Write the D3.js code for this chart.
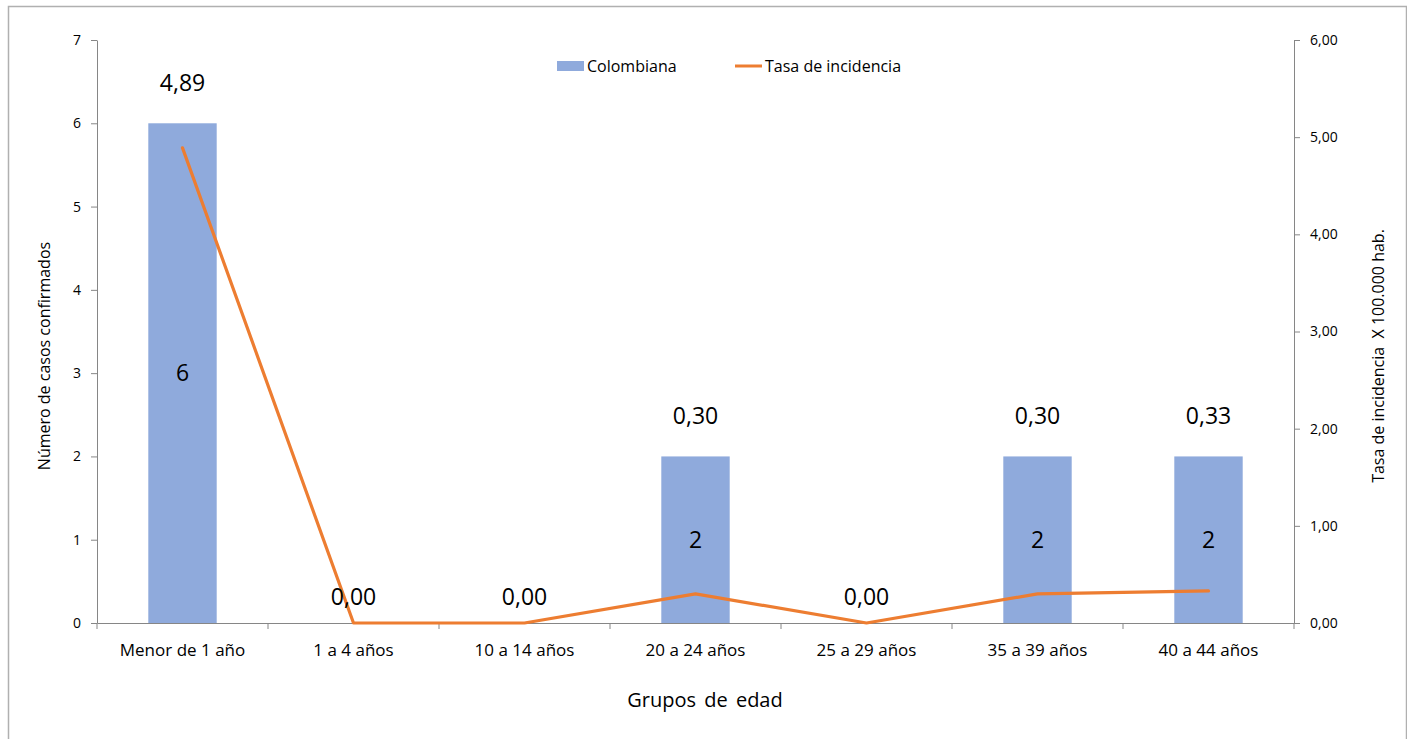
<!DOCTYPE html>
<html><head><meta charset="utf-8">
<script src="https://cdn.jsdelivr.net/npm/d3@7"></script>
<style>
body{margin:0;background:#fff}
svg{display:block}
text{font-family:"Open Sans",sans-serif;fill:#000}
</style>
</head><body><svg id="c" width="1407" height="739"></svg>
<script>
const categories = ["Menor de 1 año","1 a 4 años","10 a 14 años","20 a 24 años","25 a 29 años","35 a 39 años","40 a 44 años"];
const casos = [6,0,0,2,0,2,2];
const tasa = [4.89,0,0,0.30,0,0.30,0.33];
const leftTicks = [0,1,2,3,4,5,6,7];
const rightTicks = [0,1,2,3,4,5,6];
const seriesNames = ["Colombiana","Tasa de incidencia"];

const data = categories.map((c,i)=>({cat:c, n:casos[i], r:tasa[i]}));
const svg = d3.select("#c");
const L=97, R=1294, T=40, B=623;
const barColor="#8FAADC", lineColor="#ED7D31", axisColor="#868686";
const fmt = v => v.toFixed(2).replace('.',',');

svg.append("rect").attr("x",8.5).attr("y",6.5).attr("width",1398).attr("height",800)
  .attr("fill","none").attr("stroke","#b0b0b0").attr("stroke-width",1.5);

const x = d3.scaleBand().domain(categories).range([L,R]).padding(0);
const yL = d3.scaleLinear().domain([0,7]).range([B,T]);
const yR = d3.scaleLinear().domain([0,6]).range([B,T]);

// bars
const bw = x.bandwidth()*0.4;
svg.append("g").selectAll("rect").data(data.filter(d=>d.n>0)).join("rect")
  .attr("x",d=>x(d.cat)+x.bandwidth()*0.3).attr("width",bw)
  .attr("y",d=>yL(d.n)).attr("height",d=>yL(0)-yL(d.n)).attr("fill",barColor);

// axes
function styleAxis(g){
  g.selectAll("path,line").attr("stroke",axisColor);
  g.selectAll("text").attr("fill","#000").style("font-family",'"Open Sans",sans-serif');
}
const gl = svg.append("g").attr("transform",`translate(${L},0)`)
  .call(d3.axisLeft(yL).tickValues(leftTicks).tickSize(6).tickSizeOuter(0).tickPadding(10).tickFormat(d3.format("d")));
gl.selectAll("text").style("font-size","14px");
styleAxis(gl);

const gr = svg.append("g").attr("transform",`translate(${R},0)`)
  .call(d3.axisRight(yR).tickValues(rightTicks).tickSize(6).tickSizeOuter(0).tickPadding(10).tickFormat(fmt));
gr.selectAll("text").style("font-size","14px");
styleAxis(gr);

const gb = svg.append("g").attr("transform",`translate(0,${B})`)
  .call(d3.axisBottom(x).tickSize(0).tickSizeOuter(0).tickPadding(21));
gb.selectAll("text").style("font-size","17px");
styleAxis(gb);
// boundary ticks
const bounds = categories.map(c=>x(c)).concat([x(categories[categories.length-1])+x.bandwidth()]);
svg.append("g").selectAll("line").data(bounds).join("line")
  .attr("x1",d=>d).attr("x2",d=>d).attr("y1",B).attr("y2",B+6).attr("stroke",axisColor);

// line
const line = d3.line().x(d=>x(d.cat)+x.bandwidth()/2).y(d=>yR(d.r));
svg.append("path").datum(data).attr("d",line).attr("fill","none")
  .attr("stroke",lineColor).attr("stroke-width",3.2).attr("stroke-linejoin","round").attr("stroke-linecap","round");

// count labels (inside bars)
svg.append("g").selectAll("text").data(data.filter(d=>d.n>0)).join("text")
  .attr("x",d=>x(d.cat)+x.bandwidth()/2).attr("y",d=>(yL(d.n)+yL(0))/2).attr("dy","0.36em")
  .attr("text-anchor","middle").style("font-size","23px").text(d=>d.n);

// rate labels
svg.append("g").selectAll("text").data(data).join("text")
  .attr("x",d=>x(d.cat)+x.bandwidth()/2)
  .attr("y",d=> d.n>0 ? yL(d.n)-41 : yR(d.r)-26).attr("dy","0.36em")
  .attr("text-anchor","middle").style("font-size","23px").text(d=>fmt(d.r));

// axis titles
svg.append("text").attr("transform","translate(50,356) rotate(-90)").attr("text-anchor","middle")
  .style("font-size","16px").text("Número de casos confirmados");
svg.append("text").attr("transform","translate(1384,356) rotate(-90)").attr("text-anchor","middle")
  .style("font-size","16px").text("Tasa de incidencia\u00a0 X 100.000 hab.");
svg.append("text").attr("x",705).attr("y",707).attr("text-anchor","middle")
  .style("font-size","20px").style("word-spacing","3px").text("Grupos de edad");

// legend
const lg = svg.append("g");
lg.append("rect").attr("x",557).attr("y",61).attr("width",27).attr("height",10).attr("fill",barColor);
lg.append("text").attr("x",587).attr("y",72).style("font-size","16px").text(seriesNames[0]);
lg.append("line").attr("x1",735).attr("x2",762).attr("y1",66).attr("y2",66)
  .attr("stroke",lineColor).attr("stroke-width",3);
lg.append("text").attr("x",765).attr("y",72).style("font-size","16px").text(seriesNames[1]);
</script>
</body></html>
